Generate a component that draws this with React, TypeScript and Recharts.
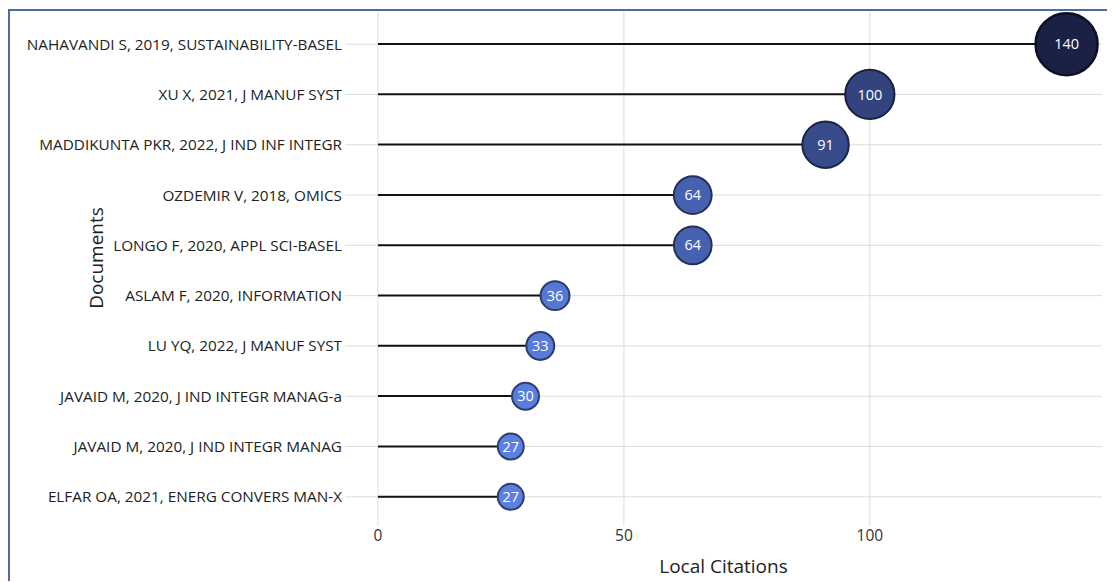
import React from "react"
import { Bar, CartesianGrid, ComposedChart, Label, LabelList, Scatter, XAxis, YAxis, ZAxis } from "recharts"

const documents = [
  "NAHAVANDI S, 2019, SUSTAINABILITY-BASEL",
  "XU X, 2021, J MANUF SYST",
  "MADDIKUNTA PKR, 2022, J IND INF INTEGR",
  "OZDEMIR V, 2018, OMICS",
  "LONGO F, 2020, APPL SCI-BASEL",
  "ASLAM F, 2020, INFORMATION",
  "LU YQ, 2022, J MANUF SYST",
  "JAVAID M, 2020, J IND INTEGR MANAG-a",
  "JAVAID M, 2020, J IND INTEGR MANAG",
  "ELFAR OA, 2021, ENERG CONVERS MAN-X",
]
const citations = [140, 100, 91, 64, 64, 36, 33, 30, 27, 27]
const xTicks = [0, 50, 100]

const data = documents.map((name, i) => ({ name, value: citations[i] }))

const font = "'Open Sans', 'Noto Sans', sans-serif"

// light blue for few citations, dark navy for many
const light = [91, 128, 226]
const dark = [27, 33, 69]
const mix = (t: number, k = 1) =>
  `rgb(${light.map((c, i) => Math.round((c + (dark[i] - c) * t) * k)).join(",")})`

function Bubble(props: any) {
  const { cx, cy, size, payload } = props
  const t = Math.min(1, Math.max(0, (payload.value - 27) / (140 - 27)))
  return <circle cx={cx} cy={cy} r={size} fill={mix(t)} stroke={mix(t, 0.5)} strokeWidth={t > 0.9 ? 2.5 : 2} />
}

function DocTick(props: any) {
  const { x, y, payload } = props
  return (
    <text x={x} y={y} dy="0.36em" textAnchor="end" fill="#222" fontSize={15.3} fontFamily={font}>
      {payload.value}
    </text>
  )
}

export default function App() {
  return (
    <div style={{ marginTop: 1, borderTop: "2.5px solid #4b6c9e", borderLeft: "2.5px solid #4b6c9e", width: 1105, height: 570 }}>
      <ComposedChart
        width={1105}
        height={570}
        data={data}
        layout="vertical"
        margin={{ top: 0, right: 13, bottom: 0, left: 0 }}
        style={{ fontFamily: font }}
      >
        <CartesianGrid stroke="#dcdcdc" strokeWidth={1} syncWithTicks />
        <XAxis
          type="number"
          dataKey="value"
          domain={[-6.7, 147.2]}
          ticks={xTicks}
          allowDataOverflow
          axisLine={false}
          tickLine={false}
          tickSize={0}
          tickMargin={4}
          height={55}
          tick={{ fill: "#333", fontSize: 15.5, fontFamily: font }}
        >
          <Label value="Local Citations" position="insideBottom" offset={8} fill="#222" fontSize={19} fontFamily={font} />
        </XAxis>
        <YAxis
          type="category"
          dataKey="name"
          width={335}
          padding={{ top: 8, bottom: 4 }}
          axisLine={false}
          tickLine={false}
          tickSize={0}
          tickMargin={3}
          interval={0}
          tick={<DocTick />}
          label={{
            content: () => (
              <text x={93} y={247} transform="rotate(-90 93 247)" textAnchor="middle" fill="#222" fontSize={19} fontFamily={font}>
                Documents
              </text>
            ),
          }}
        />
        <ZAxis type="number" dataKey="value" domain={[27, 140]} range={[13, 31]} />
        <Bar dataKey="value" barSize={2} fill="#111" isAnimationActive={false} />
        <Scatter dataKey="value" shape={<Bubble />} isAnimationActive={false}>
          <LabelList dataKey="value" position="center" fill="#fff" fontSize={14.5} fontFamily={font} />
        </Scatter>
      </ComposedChart>
    </div>
  )
}
